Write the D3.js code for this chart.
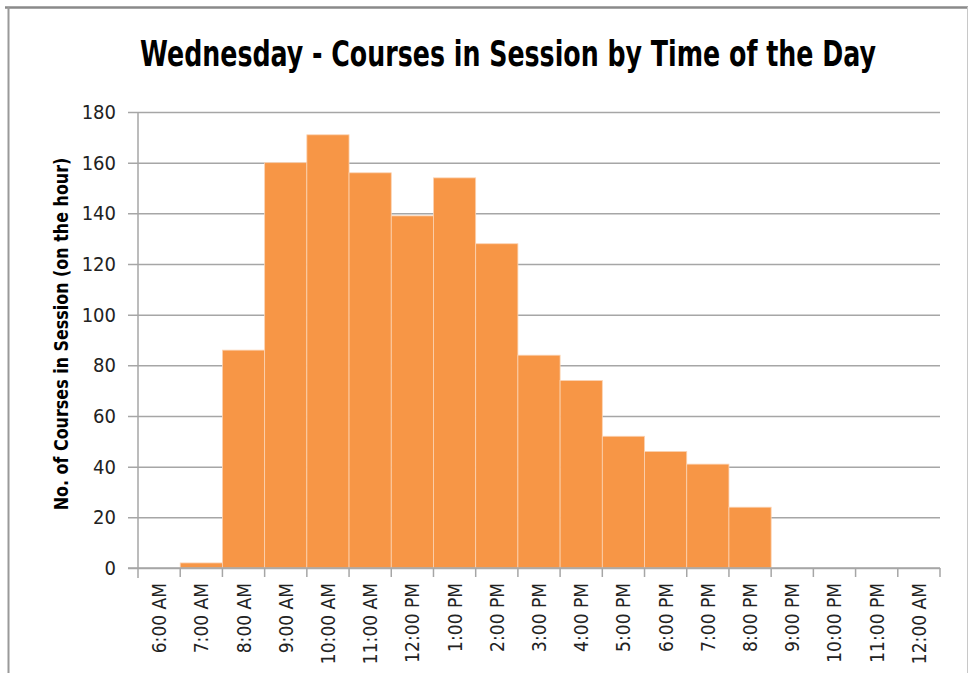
<!DOCTYPE html>
<html>
<head>
<meta charset="utf-8">
<script src="https://cdn.jsdelivr.net/npm/d3@7"></script>
<style>
  body { margin: 0; background: #fff; }
  svg { display: block; }
  text { font-stretch: condensed; }
</style>
</head>
<body>
<svg width="969" height="673"></svg>
<script>
  // data
  var hours = ["6:00 AM","7:00 AM","8:00 AM","9:00 AM","10:00 AM","11:00 AM","12:00 PM",
               "1:00 PM","2:00 PM","3:00 PM","4:00 PM","5:00 PM","6:00 PM","7:00 PM",
               "8:00 PM","9:00 PM","10:00 PM","11:00 PM","12:00 AM"];
  var courses = [0, 2, 86, 160, 171, 156, 139, 154, 128, 84, 74, 52, 46, 41, 24, 0, 0, 0, 0];
  var yTicks = [0, 20, 40, 60, 80, 100, 120, 140, 160, 180];

  var svg = d3.select("svg"),
      width = +svg.attr("width"),
      height = +svg.attr("height"),
      margin = {top: 112, right: 29, bottom: 105, left: 138},
      w = width - margin.left - margin.right,
      h = height - margin.top - margin.bottom;

  var labelFont = "'DejaVu Sans Condensed', 'DejaVu Sans', sans-serif";

  // squeeze a text horizontally so it spans `target` px (fonts here are wider than the original)
  function fitWidth(sel, cx, cy, rot, target) {
    var len = sel.node().getComputedTextLength();
    var k = Math.min(1, target / len);
    sel.attr("transform", "translate(" + cx + "," + cy + ")" + (rot ? " rotate(" + rot + ")" : "") + " scale(" + k + ",1)");
  }

  // frame
  svg.append("line").attr("x1", 5).attr("x2", 968).attr("y1", 7.5).attr("y2", 7.5)
      .attr("stroke", "#8a8a8a").attr("stroke-width", 2.5);
  svg.append("line").attr("x1", 8.5).attr("x2", 8.5).attr("y1", 7).attr("y2", height)
      .attr("stroke", "#9a9a9a").attr("stroke-width", 2);
  svg.append("line").attr("x1", 967.5).attr("x2", 967.5).attr("y1", 7).attr("y2", height)
      .attr("stroke", "#c8c8c8").attr("stroke-width", 1);

  var title = svg.append("text")
      .attr("text-anchor", "middle")
      .attr("font-family", labelFont)
      .attr("font-weight", "bold")
      .attr("font-size", "35px")
      .attr("fill", "#000")
      .text("Wednesday - Courses in Session by Time of the Day");
  fitWidth(title, 508, 66, 0, 736);

  var g = svg.append("g").attr("transform", "translate(" + margin.left + "," + margin.top + ")");

  var x = d3.scaleBand().domain(hours).range([0, w]).padding(0);
  var y = d3.scaleLinear().domain([0, 180]).range([h, 0]);

  // gridlines + y ticks
  var yAxis = g.append("g")
      .call(d3.axisLeft(y).tickValues(yTicks).tickSize(-w - 10).tickSizeOuter(0).tickPadding(12))
      .attr("transform", "translate(-10,0)");
  yAxis.select(".domain").remove();
  yAxis.selectAll(".tick line").attr("stroke", "#a6a6a6").attr("stroke-width", 1.5);
  yAxis.selectAll(".tick text")
      .attr("font-family", labelFont)
      .attr("font-size", "20px")
      .attr("fill", "#222");

  // bars
  g.append("g")
    .selectAll("rect")
    .data(courses)
    .enter().append("rect")
      .attr("x", function(d, i) { return x(hours[i]); })
      .attr("width", x.bandwidth())
      .attr("y", function(d) { return y(d); })
      .attr("height", function(d) { return h - y(d); })
      .attr("fill", "#f79646")
      .attr("stroke", function(d) { return d > 0 ? "#fbd3b3" : "none"; })
      .attr("stroke-width", 0.8);

  // y axis line
  g.append("line").attr("x1", 0).attr("x2", 0).attr("y1", 0).attr("y2", h + 10)
      .attr("stroke", "#a6a6a6").attr("stroke-width", 1.5);

  // x axis: ticks at band edges, labels centred in bands
  var xg = g.append("g").attr("transform", "translate(0," + h + ")");
  xg.append("line").attr("x1", -10).attr("x2", w).attr("stroke", "#a6a6a6").attr("stroke-width", 1.5);
  xg.selectAll(".edge")
    .data(hours)
    .enter().append("line")
      .attr("x1", function(d) { return x(d) + x.bandwidth(); })
      .attr("x2", function(d) { return x(d) + x.bandwidth(); })
      .attr("y1", 0).attr("y2", 9)
      .attr("stroke", "#a6a6a6").attr("stroke-width", 1.5);
  xg.selectAll(".lbl")
    .data(hours)
    .enter().append("text")
      .attr("transform", function(d) {
        return "translate(" + (x(d) + x.bandwidth() / 2 + 7) + ",15) rotate(-90)";
      })
      .attr("text-anchor", "end")
      .attr("font-family", labelFont)
      .attr("font-size", "19px")
      .attr("fill", "#222")
      .text(function(d) { return d; });

  // y title
  var yTitle = svg.append("text")
      .attr("text-anchor", "middle")
      .attr("font-family", labelFont)
      .attr("font-weight", "bold")
      .attr("font-size", "19px")
      .attr("fill", "#000")
      .text("No. of Courses in Session (on the hour)");
  fitWidth(yTitle, 68, margin.top + h / 2 - 6, -90, 353);
</script>
</body>
</html>
